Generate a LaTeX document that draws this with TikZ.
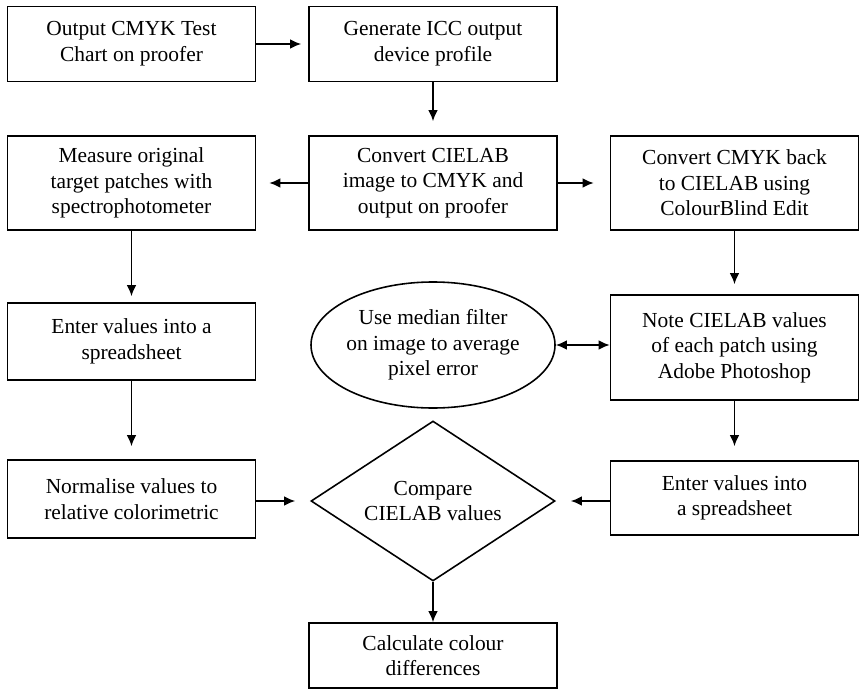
\documentclass[tikz,border=0pt]{standalone}
\usepackage{fontspec}
\setmainfont{Liberation Serif}
\usepackage{tikz}
\usetikzlibrary{shapes,arrows,arrows.meta}
\tikzstyle{block} = [draw, rectangle, line width=0.9pt, minimum width=4.96cm, align=center]
\tikzstyle{bubble} = [draw, ellipse, line width=0.9pt, minimum width=4.88cm, minimum height=2.52cm, inner sep=0pt, inner xsep=-0.3cm, align=center]
\tikzstyle{decision} = [draw, diamond, line width=0.9pt, aspect=1.52, minimum width=4.88cm, minimum height=3.2cm, inner sep=0pt, align=center]
\tikzstyle{line} = [draw, line width=0.9pt, ->]

\begin{document}
\begin{tikzpicture}[auto, node distance=6.03cm, >={Latex[length=2.2mm,width=1.9mm]}, font=\fontsize{12.2}{14.6}\selectfont]
    \useasboundingbox (0,0) rectangle (17.3,-13.98);
    % We start by placing the blocks
    \node [block, minimum height=1.5cm] (chart) at (2.63,-0.88) {Output CMYK Test\\Chart on proofer};
    \node [block, minimum height=1.5cm, right of = chart] (profile) {Generate ICC output\\device profile};
    \node [block, minimum height=1.88cm, below of = profile, node distance=2.78cm] (convert) {Convert CIELAB\\image to CMYK and\\output on proofer};
    \node [block, minimum height=1.88cm, left of = convert] (measure) {Measure original\\target patches with\\spectrophotometer};
    \node [block, minimum height=1.88cm, right of = convert] (back) {Convert CMYK back\\to CIELAB using\\ColourBlind Edit};
    \node [block, minimum height=1.54cm, below of = measure, node distance=3.17cm] (enter) {Enter values into a\\spreadsheet};
    \node [bubble, below of = convert, node distance=3.24cm] (median) {Use median filter\\on image to average\\pixel error};
    \node [block, minimum height=2.1cm, below of = back, node distance=3.29cm] (note) {Note CIELAB values\\of each patch using\\Adobe Photoshop};
    \node [block, minimum height=1.56cm, below of = enter, node distance=3.15cm] (normalise) {Normalise values to\\relative colorimetric};
    \node [decision, below of = median, node distance=3.12cm] (compare) {Compare\\CIELAB values};
    \node [block, minimum height=1.48cm, below of = note, node distance=3.01cm] (spread) {Enter values into\\a spreadsheet};
    \node [block, minimum height=1.3cm, below of = compare, node distance=3.09cm] (diff) {Calculate colour\\differences};

    % Once the nodes are placed, connecting them is easy.
    \path [line, shorten >=0.14cm] (chart) -- (profile);
    \path [line, shorten >=0.28cm] (profile) -- (convert);
    \path [line, shorten >=0.26cm] (convert) -- (measure);
    \path [line, shorten >=0.32cm] (convert) -- (back);
    \path [line, shorten >=0.12cm] (measure) -- (enter);
    \path [line, shorten >=0.2cm] (back) -- (note);
    \path [line, <->] (median) -- (median -| note.west);
    \path [line, shorten >=0.26cm] (enter) -- (normalise);
    \path [line, shorten >=0.28cm] (note) -- (spread);
    \path [line, shorten >=0.3cm] (normalise.east |- compare) -- (compare);
    \path [line, shorten >=0.3cm] (spread.west |- compare) -- (compare);
    \path [line] (compare) -- (diff);
\end{tikzpicture}
\end{document}
